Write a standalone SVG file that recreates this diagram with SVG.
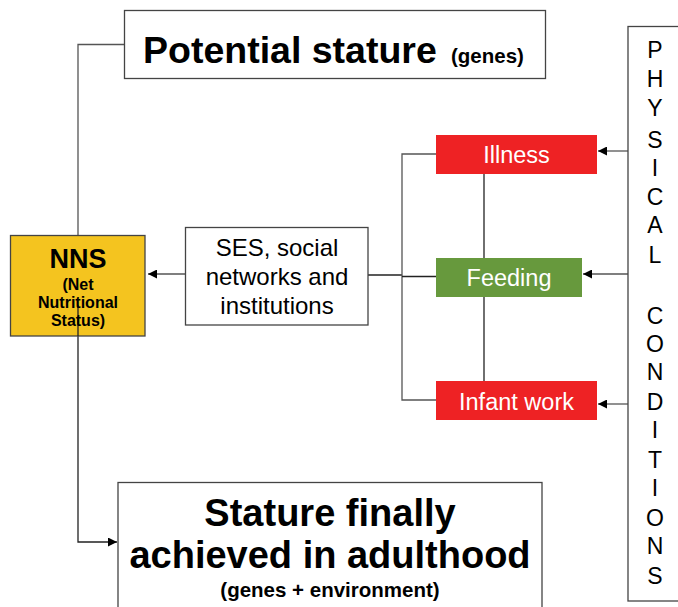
<svg xmlns="http://www.w3.org/2000/svg" width="678" height="607" viewBox="0 0 678 607">
<style>
  text { font-family: "Liberation Sans", Arial, sans-serif; }
  .box { fill: #ffffff; stroke: #444; stroke-width: 1.3; }
  .ln { fill: none; stroke: #222; stroke-width: 1.3; }
  .lng { fill: none; stroke: #555; stroke-width: 1.3; }
  .b { font-weight: bold; fill: #000; }
  .w { fill: #ffffff; font-size: 23.5px; }
  .p { font-size: 23px; fill: #000; }
</style>
<defs>
  <marker id="ah" viewBox="0 0 10 10" refX="10" refY="5" markerWidth="9" markerHeight="9" markerUnits="userSpaceOnUse" orient="auto">
    <path d="M0,0 L10,5 L0,10 z" fill="#000"/>
  </marker>
</defs>
<rect width="678" height="607" fill="#ffffff"/>

<g id="connectors">
  <polyline class="lng" points="124,44.5 78,44.5 78,236"/>
  <polyline class="ln" points="78,336 78,542 117,542" marker-end="url(#ah)"/>
  <line class="lng" x1="185" y1="274" x2="148" y2="274" marker-end="url(#ah)"/>
  <line class="ln" x1="368" y1="275" x2="402" y2="275"/>
  <polyline class="lng" points="436,154 402,154 402,400 436,400"/>
  <line class="ln" x1="402" y1="276.5" x2="436" y2="276.5"/>
  <line class="ln" x1="484" y1="174" x2="484" y2="258"/>
  <line class="ln" x1="484" y1="297" x2="484" y2="381"/>
  <line class="lng" x1="628" y1="151" x2="598" y2="151" marker-end="url(#ah)"/>
  <line class="lng" x1="628" y1="274" x2="583" y2="274" marker-end="url(#ah)"/>
  <line class="lng" x1="628" y1="404" x2="598" y2="404" marker-end="url(#ah)"/>
</g>

<g id="potential">
  <rect class="box" x="124.5" y="10.5" width="421" height="68"/>
  <text x="143" y="63" class="b" font-size="37.5">Potential stature</text>
  <text x="451" y="63" class="b" font-size="20.5">(genes)</text>
</g>

<g id="nns">
  <rect x="10.5" y="235.5" width="134.5" height="100.5" fill="#F4C41F" stroke="#444" stroke-width="1.3"/>
  <line class="ln" x1="78" y1="305" x2="78" y2="336"/>
  <text x="78" y="268" text-anchor="middle" class="b" font-size="27">NNS</text>
  <text x="78" y="290" text-anchor="middle" class="b" font-size="16">(Net</text>
  <text x="78" y="308" text-anchor="middle" class="b" font-size="16">Nutritional</text>
  <text x="78" y="326" text-anchor="middle" class="b" font-size="16">Status)</text>
</g>

<g id="ses">
  <rect class="box" x="185.5" y="227.5" width="182.5" height="97.5"/>
  <text x="277" y="256" text-anchor="middle" font-size="24" fill="#000">SES, social</text>
  <text x="277" y="285" text-anchor="middle" font-size="24" fill="#000">networks and</text>
  <text x="277" y="314" text-anchor="middle" font-size="24" fill="#000">institutions</text>
</g>

<g id="illness">
  <rect x="436" y="135" width="161" height="39" fill="#EE2224"/>
  <text x="516.5" y="163" text-anchor="middle" class="w">Illness</text>
</g>

<g id="feeding">
  <rect x="436" y="258" width="146" height="39" fill="#67993D"/>
  <text x="509" y="286" text-anchor="middle" class="w">Feeding</text>
</g>

<g id="infant">
  <rect x="436" y="381" width="161" height="39" fill="#EE2224"/>
  <text x="516.5" y="410" text-anchor="middle" class="w">Infant work</text>
</g>

<g id="physical">
  <rect class="box" x="628" y="26.5" width="60" height="574.5"/>
  <g class="p" text-anchor="middle">
    <text x="655" y="58">P</text>
    <text x="655" y="87">H</text>
    <text x="655" y="116">Y</text>
    <text x="655" y="148">S</text>
    <text x="655" y="176">I</text>
    <text x="655" y="205">C</text>
    <text x="655" y="233">A</text>
    <text x="655" y="263">L</text>
    <text x="655" y="324">C</text>
    <text x="655" y="352">O</text>
    <text x="655" y="380">N</text>
    <text x="655" y="410">D</text>
    <text x="655" y="438">I</text>
    <text x="655" y="468">T</text>
    <text x="655" y="496">I</text>
    <text x="655" y="526">O</text>
    <text x="655" y="554">N</text>
    <text x="655" y="584">S</text>
  </g>
</g>

<g id="stature">
  <rect class="box" x="118" y="482.5" width="424" height="140"/>
  <text x="330" y="526" text-anchor="middle" class="b" font-size="38">Stature finally</text>
  <text x="330" y="568" text-anchor="middle" class="b" font-size="38">achieved in adulthood</text>
  <text x="330" y="597" text-anchor="middle" class="b" font-size="20.5">(genes + environment)</text>
</g>
</svg>
